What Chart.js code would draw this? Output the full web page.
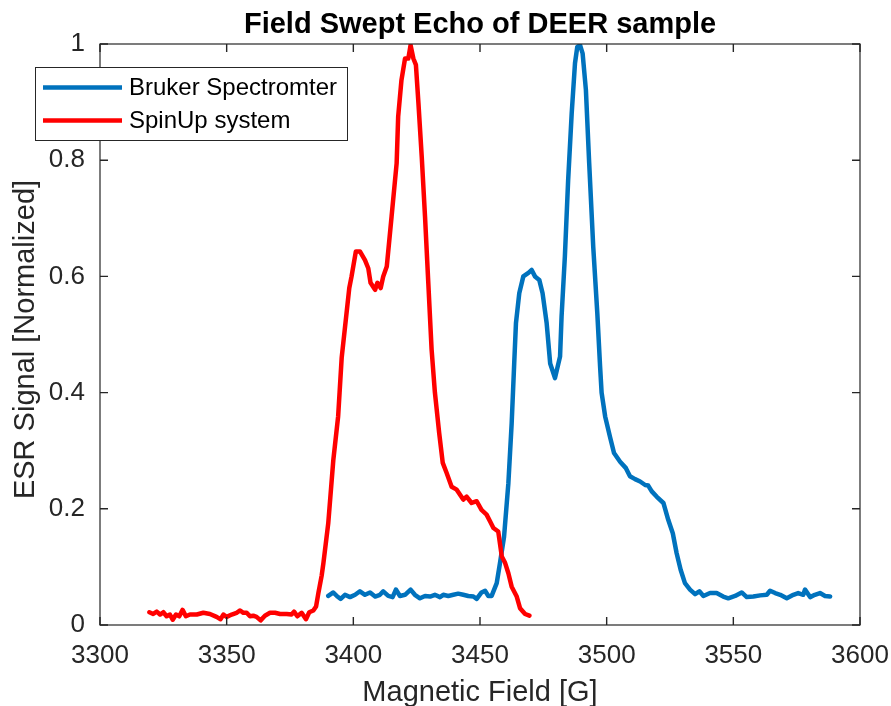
<!DOCTYPE html>
<html>
<head>
<meta charset="utf-8">
<script src="https://cdn.jsdelivr.net/npm/chart.js@4"></script>
<style>
  html, body { margin: 0; padding: 0; background: #ffffff; }
  #wrap { width: 891px; height: 706px; }
</style>
</head>
<body>
<div id="wrap"><canvas id="chart-fse" width="891" height="706"></canvas></div>
<script>
// Field swept echo, both spectrometers, normalized signal
const titleText = "Field Swept Echo of DEER sample";
const xLabel = "Magnetic Field [G]";
const yLabel = "ESR Signal [Normalized]";
const seriesNames = ["Bruker Spectromter", "SpinUp system"];
const seriesColors = ["#0072BD", "#FF0000"];

const xTicks = [3300, 3350, 3400, 3450, 3500, 3550, 3600];
const yTicks = [0, 0.2, 0.4, 0.6, 0.8, 1];

const brukerField = [
    3390.1, 3392.1, 3393.7, 3395.0, 3396.7, 3398.7, 3400.7, 3402.6, 3404.6, 3406.6,
    3408.6, 3410.5, 3411.8, 3413.8, 3415.5, 3416.8, 3418.4, 3420.4, 3422.6, 3424.3,
    3426.3, 3428.3, 3430.3, 3432.2, 3434.2, 3435.5, 3437.5, 3439.5, 3441.4, 3443.4,
    3445.4, 3447.4, 3448.7, 3450.6, 3452.0, 3453.3, 3454.6, 3456.6, 3457.9, 3459.5,
    3461.2, 3462.5, 3463.5, 3464.2, 3465.5, 3467.1, 3469.1, 3470.4, 3471.7, 3473.4,
    3474.7, 3476.3, 3477.7, 3479.6, 3481.6, 3482.2, 3483.5, 3484.8, 3486.2, 3487.5,
    3488.4, 3489.5, 3490.5, 3491.8, 3493.1, 3494.7, 3496.3, 3497.4, 3498.0, 3499.4,
    3501.3, 3502.9, 3505.3, 3507.6, 3509.2, 3511.2, 3513.2, 3515.2, 3516.4, 3517.8,
    3519.7, 3522.4, 3524.3, 3526.1, 3527.6, 3529.2, 3530.9, 3532.9, 3534.9, 3536.6,
    3538.2, 3540.8, 3543.4, 3546.0, 3548.0, 3550.7, 3553.3, 3555.3, 3557.9, 3560.6,
    3563.2, 3564.5, 3566.5, 3568.5, 3571.1, 3573.7, 3575.6, 3577.6, 3578.3, 3580.3,
    3582.2, 3584.2, 3586.2, 3588.2
];
const brukerSignal = [
    0.050, 0.056, 0.049, 0.045, 0.052, 0.048, 0.052, 0.058, 0.052, 0.056,
    0.049, 0.052, 0.058, 0.050, 0.048, 0.061, 0.050, 0.052, 0.061, 0.052,
    0.046, 0.050, 0.049, 0.052, 0.048, 0.052, 0.050, 0.052, 0.054, 0.052,
    0.050, 0.049, 0.045, 0.056, 0.059, 0.050, 0.050, 0.072, 0.107, 0.152,
    0.244, 0.347, 0.450, 0.520, 0.571, 0.600, 0.606, 0.611, 0.600, 0.594,
    0.571, 0.520, 0.450, 0.425, 0.462, 0.531, 0.634, 0.766, 0.881, 0.967,
    0.995, 0.998, 0.984, 0.921, 0.795, 0.651, 0.537, 0.445, 0.400, 0.359,
    0.324, 0.296, 0.281, 0.270, 0.256, 0.251, 0.247, 0.241, 0.240, 0.230,
    0.221, 0.210, 0.181, 0.158, 0.124, 0.095, 0.072, 0.061, 0.053, 0.058,
    0.050, 0.055, 0.055, 0.049, 0.046, 0.050, 0.056, 0.048, 0.049, 0.051,
    0.052, 0.059, 0.055, 0.052, 0.046, 0.052, 0.055, 0.052, 0.061, 0.048,
    0.052, 0.055, 0.050, 0.049
];

const spinUpField = [
    3319.5, 3321.0, 3322.4, 3323.7, 3325.0, 3326.3, 3327.6, 3328.7, 3330.0, 3331.3,
    3332.6, 3333.9, 3335.5, 3338.2, 3340.8, 3343.4, 3346.0, 3347.6, 3348.7, 3350.0,
    3352.0, 3353.9, 3355.3, 3356.6, 3357.9, 3359.2, 3360.5, 3361.8, 3363.4, 3365.1,
    3367.1, 3369.1, 3371.1, 3373.7, 3375.6, 3376.6, 3377.9, 3379.6, 3381.3, 3382.6,
    3384.2, 3385.3, 3386.2, 3387.5, 3388.2, 3390.1, 3392.1, 3394.0, 3395.4, 3398.4,
    3399.3, 3401.0, 3402.6, 3404.6, 3405.9, 3406.8, 3408.6, 3409.5, 3410.8, 3411.8,
    3413.2, 3415.1, 3417.1, 3417.7, 3419.0, 3420.4, 3421.7, 3422.6, 3423.7, 3424.7,
    3425.7, 3427.0, 3428.3, 3429.6, 3430.9, 3432.2, 3433.9, 3435.3, 3436.8, 3438.8,
    3440.8, 3443.4, 3444.7, 3446.7, 3448.7, 3450.6, 3452.6, 3454.0, 3455.3, 3457.2,
    3458.6, 3459.9, 3461.2, 3462.5, 3464.5, 3465.8, 3467.8, 3469.5
];
const spinUpSignal = [
    0.022, 0.019, 0.023, 0.018, 0.022, 0.015, 0.018, 0.009, 0.018, 0.015,
    0.026, 0.015, 0.018, 0.018, 0.021, 0.019, 0.014, 0.010, 0.018, 0.014,
    0.018, 0.021, 0.025, 0.021, 0.021, 0.015, 0.016, 0.014, 0.008, 0.016,
    0.021, 0.021, 0.019, 0.019, 0.018, 0.023, 0.015, 0.021, 0.010, 0.022,
    0.025, 0.032, 0.055, 0.085, 0.107, 0.175, 0.284, 0.359, 0.460, 0.580,
    0.600, 0.643, 0.643, 0.628, 0.614, 0.589, 0.577, 0.589, 0.580, 0.600,
    0.617, 0.703, 0.795, 0.875, 0.938, 0.975, 0.975, 0.998, 0.975, 0.964,
    0.898, 0.806, 0.703, 0.588, 0.474, 0.400, 0.330, 0.279, 0.262, 0.238,
    0.233, 0.216, 0.221, 0.210, 0.213, 0.198, 0.190, 0.178, 0.167, 0.161,
    0.118, 0.107, 0.089, 0.066, 0.049, 0.029, 0.019, 0.016
];

const FONT = "'Liberation Sans', Arial, Helvetica, sans-serif";
const AXIS_COLOR = "#262626";

const toPoints = (xs, ys) => xs.map((x, i) => ({ x: x, y: ys[i] }));

// MATLAB-like box: frame, inward ticks, legend and titles
const matlabFrame = {
    id: "matlabFrame",
    afterDraw(chart) {
        const { ctx, chartArea: a, scales } = chart;
        const xs = scales.x, ys = scales.y;
        ctx.save();

        // frame
        ctx.strokeStyle = AXIS_COLOR;
        ctx.lineWidth = 1.2;
        ctx.strokeRect(a.left, a.top, a.right - a.left, a.bottom - a.top);

        // inward ticks on all four sides
        const tl = 8;
        ctx.lineWidth = 1.4;
        ctx.beginPath();
        xTicks.forEach(v => {
            const px = xs.getPixelForValue(v);
            ctx.moveTo(px, a.bottom); ctx.lineTo(px, a.bottom - tl);
            ctx.moveTo(px, a.top); ctx.lineTo(px, a.top + tl);
        });
        yTicks.forEach(v => {
            const py = ys.getPixelForValue(v);
            ctx.moveTo(a.left, py); ctx.lineTo(a.left + tl, py);
            ctx.moveTo(a.right, py); ctx.lineTo(a.right - tl, py);
        });
        ctx.stroke();

        // title
        ctx.fillStyle = "#000000";
        ctx.font = "bold 29px " + FONT;
        ctx.textAlign = "center";
        ctx.textBaseline = "alphabetic";
        ctx.fillText(titleText, (a.left + a.right) / 2, 33);

        // axis titles
        ctx.fillStyle = AXIS_COLOR;
        ctx.font = "29px " + FONT;
        ctx.fillText(xLabel, (a.left + a.right) / 2, 701);
        ctx.save();
        ctx.translate(33.5, (a.top + a.bottom) / 2 + 5);
        ctx.rotate(-Math.PI / 2);
        ctx.fillText(yLabel, 0, 0);
        ctx.restore();

        // legend
        const lx = 35, ly = 67, lw = 312, lh = 73;
        ctx.fillStyle = "#ffffff";
        ctx.fillRect(lx, ly, lw, lh);
        ctx.strokeStyle = AXIS_COLOR;
        ctx.lineWidth = 1;
        ctx.strokeRect(lx + 0.5, ly + 0.5, lw, lh);
        ctx.font = "24px " + FONT;
        ctx.textAlign = "left";
        ctx.textBaseline = "middle";
        chart.data.datasets.forEach((ds, i) => {
            const rowY = ly + 20.5 + i * 33;
            ctx.strokeStyle = ds.borderColor;
            ctx.lineWidth = 4.5;
            ctx.beginPath();
            ctx.moveTo(lx + 8, rowY);
            ctx.lineTo(lx + 87, rowY);
            ctx.stroke();
            ctx.fillStyle = "#000000";
            ctx.fillText(ds.label, lx + 94, rowY + 1);
        });

        ctx.restore();
    }
};

const ctxFse = document.getElementById("chart-fse");
new Chart(ctxFse, {
    type: "line",
    data: {
        datasets: [
            {
                label: seriesNames[0],
                data: toPoints(brukerField, brukerSignal),
                borderColor: seriesColors[0],
                borderWidth: 4.5,
                pointRadius: 0,
                tension: 0,
                borderJoinStyle: "round",
                borderCapStyle: "round",
                order: 2
            },
            {
                label: seriesNames[1],
                data: toPoints(spinUpField, spinUpSignal),
                borderColor: seriesColors[1],
                borderWidth: 4.5,
                pointRadius: 0,
                tension: 0,
                borderJoinStyle: "round",
                borderCapStyle: "round",
                order: 1
            }
        ]
    },
    plugins: [matlabFrame],
    options: {
        responsive: false,
        animation: false,
        devicePixelRatio: 1,
        layout: { padding: { top: 44, right: 31, left: 0, bottom: 0 } },
        plugins: {
            legend: { display: false },
            title: { display: false },
            tooltip: { enabled: false }
        },
        scales: {
            x: {
                type: "linear",
                min: 3300,
                max: 3600,
                afterFit: s => { s.height = 81; s.paddingLeft = 0; s.paddingRight = 0; },
                afterBuildTicks: s => { s.ticks = xTicks.map(v => ({ value: v })); },
                grid: { display: false, drawTicks: false },
                border: { display: false },
                ticks: {
                    color: AXIS_COLOR,
                    padding: 15,
                    maxRotation: 0,
                    callback: v => String(v),
                    font: { family: FONT, size: 26 }
                }
            },
            y: {
                type: "linear",
                min: 0,
                max: 1,
                afterFit: s => { s.width = 100; s.paddingTop = 0; s.paddingBottom = 0; },
                afterBuildTicks: s => { s.ticks = yTicks.map(v => ({ value: v })); },
                grid: { display: false, drawTicks: false },
                border: { display: false },
                ticks: {
                    color: AXIS_COLOR,
                    padding: 15,
                    callback: v => String(v),
                    font: { family: FONT, size: 26 }
                }
            }
        }
    }
});
</script>
</body>
</html>
